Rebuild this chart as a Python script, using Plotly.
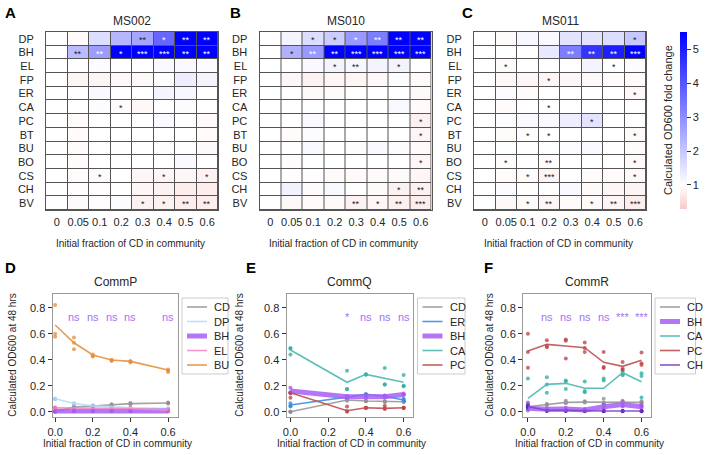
import plotly.graph_objects as go

W, H = 712, 455
FONT = "Arial, Liberation Sans, sans-serif"
TXT = "#262626"

rows = ["DP", "BH", "EL", "FP", "ER", "CA", "PC", "BT", "BU", "BO", "CS", "CH", "BV"]
cols = ["0", "0.05", "0.1", "0.2", "0.3", "0.4", "0.5", "0.6"]

ms002_fc = [
    [1, 0.95, 1.6, 2.3, 2.6, 3.7, 5.5, 5.5],
    [1, 2.2, 2.75, 5.5, 5.5, 5.5, 5.5, 5.5],
    [1, 1, 1.05, 1, 1, 1.1, 1.1, 1.05],
    [1, 0.85, 0.85, 0.9, 0.92, 0.98, 1.3, 1.2],
    [1, 1, 1.1, 1, 1, 1.2, 1.15, 1],
    [1, 1, 1.05, 0.95, 0.9, 1, 1.05, 1],
    [1, 0.95, 1, 1, 1, 1.1, 1, 0.93],
    [1, 0.95, 1, 1, 1, 1, 1, 0.95],
    [1, 0.95, 1, 1, 1, 1.02, 1, 0.93],
    [1, 0.95, 1, 1, 1, 1, 1.1, 1],
    [1, 0.95, 0.95, 1, 0.88, 0.88, 0.88, 0.82],
    [1, 0.97, 0.97, 1, 0.88, 0.82, 0.75, 0.75],
    [1, 0.93, 0.97, 1.05, 0.82, 0.82, 0.75, 0.75],
]
ms002_sig = [
    ["", "", "", "", "**", "*", "**", "**"],
    ["", "**", "**", "*", "***", "***", "**", "**"],
    [""] * 8, [""] * 8, [""] * 8,
    ["", "", "", "*", "", "", "", ""],
    [""] * 8, [""] * 8, [""] * 8, [""] * 8,
    ["", "", "*", "", "", "*", "", "*"],
    [""] * 8,
    ["", "", "", "", "*", "*", "**", "**"],
]

ms010_fc = [
    [1, 1.2, 1.6, 1.9, 2.8, 3.3, 5.5, 5.5],
    [1, 2.4, 2.8, 5.5, 5.5, 5.5, 5.5, 5.5],
    [1, 1, 1.1, 1.2, 1.15, 1.2, 1.2, 1],
    [1, 0.88, 0.82, 0.86, 0.86, 0.9, 1.05, 0.93],
    [1, 1, 0.93, 0.95, 1, 1, 1, 0.93],
    [1, 1, 1, 1, 1, 1, 1.12, 0.95],
    [1, 1, 1.1, 1, 1, 1, 1, 0.8],
    [1, 0.95, 1.05, 1, 1, 1, 1, 0.88],
    [1, 1, 1.12, 1, 1.05, 1.1, 1.05, 0.95],
    [1, 0.95, 1, 1, 1, 1, 1, 0.88],
    [1, 0.97, 0.97, 0.93, 0.93, 0.93, 0.93, 0.88],
    [1, 1.25, 0.95, 1.12, 1, 0.93, 0.82, 0.8],
    [1, 0.92, 0.95, 0.93, 0.82, 0.88, 0.8, 0.75],
]
ms010_sig = [
    ["", "", "*", "*", "*", "**", "**", "**"],
    ["", "*", "**", "**", "***", "***", "***", "***"],
    ["", "", "", "*", "**", "", "*", ""],
    [""] * 8, [""] * 8, [""] * 8,
    ["", "", "", "", "", "", "", "*"],
    ["", "", "", "", "", "", "", "*"],
    [""] * 8,
    ["", "", "", "", "", "", "", "*"],
    [""] * 8,
    ["", "", "", "", "", "", "*", "**"],
    ["", "", "", "", "**", "*", "**", "***"],
]

ms011_fc = [
    [1, 0.95, 1.15, 1.1, 1.5, 1.5, 1.6, 2.0],
    [1, 1, 1, 1.4, 3.3, 4.6, 5.0, 5.5],
    [1, 0.93, 1, 1, 1, 1.2, 1, 1.05],
    [1, 0.9, 0.88, 0.88, 0.88, 0.92, 0.95, 0.95],
    [1, 1.05, 0.95, 1, 1, 1, 1, 0.9],
    [1, 0.95, 1, 1, 1, 1, 1, 1],
    [1, 1.05, 1.1, 1.1, 1.3, 1.5, 1, 1],
    [1, 0.95, 0.97, 1, 1, 1, 1, 0.93],
    [1, 1, 1, 1, 1.05, 1.1, 1, 0.95],
    [1, 0.95, 0.97, 0.95, 1, 1, 1, 0.93],
    [1, 0.95, 0.95, 0.85, 1, 0.95, 0.95, 0.93],
    [1, 1.05, 1, 1, 1.1, 0.93, 0.88, 0.85],
    [1, 0.92, 0.93, 0.88, 0.95, 0.93, 0.88, 0.75],
]
ms011_sig = [
    ["", "", "", "", "", "", "", "*"],
    ["", "", "", "", "**", "**", "**", "***"],
    ["", "*", "", "", "", "", "*", ""],
    ["", "", "", "*", "", "", "", ""],
    ["", "", "", "", "", "", "", "*"],
    ["", "", "", "*", "", "", "", ""],
    ["", "", "", "", "", "*", "", ""],
    ["", "", "*", "*", "", "", "", "*"],
    [""] * 8,
    ["", "*", "", "**", "", "", "", "*"],
    ["", "", "*", "***", "", "", "", "*"],
    [""] * 8,
    ["", "", "*", "**", "", "*", "**", "***"],
]

heat_titles = ["MS002", "MS010", "MS011"]
fc_min, fc_max = 0.29, 5.52

# ---- bottom panels ----
commP_x = [0, 0.1, 0.2, 0.3, 0.4, 0.6]
commP_species = ["CD", "DP", "BH", "EL", "BU"]
commP_mean = {
    "CD": [0.0, 0.035, 0.044, 0.054, 0.062, 0.067],
    "DP": [0.10, 0.063, 0.045, 0.035, 0.03, 0.025],
    "BH": [0.005, 0.005, 0.005, 0.005, 0.005, 0.005],
    "EL": [0.03, 0.03, 0.03, 0.025, 0.025, 0.012],
    "BU": [0.667, 0.53, 0.436, 0.397, 0.387, 0.32],
}
commP_reps = {
    "CD": [[0, 0, 0], [0.03, 0.035, 0.04], [0.04, 0.044, 0.048], [0.05, 0.054, 0.058], [0.058, 0.062, 0.066], [0.064, 0.067, 0.07]],
    "DP": [[0.1, 0.1, 0.095], [0.065, 0.06, 0.06], [0.045, 0.045, 0.04], [0.035, 0.035, 0.03], [0.03, 0.03, 0.03], [0.025, 0.025, 0.025]],
    "BH": [[0.005, 0.004, 0.006]] * 6,
    "EL": [[0.033, 0.03, 0.028], [0.035, 0.03, 0.025], [0.03, 0.028, 0.025], [0.028, 0.02, 0.018], [0.028, 0.02, 0.018], [0.015, 0.01, 0.008]],
    "BU": [[0.82, 0.60, 0.577], [0.57, 0.53, 0.48], [0.44, 0.43, 0.425], [0.40, 0.395, 0.39], [0.39, 0.385, 0.38], [0.325, 0.315, 0.305]],
}
commP_labels = ["ns", "ns", "ns", "ns", "ns"]
commP_label_x = [0.1, 0.2, 0.3, 0.4, 0.6]

commQ_x = [0, 0.3, 0.4, 0.5, 0.6]
commQ_species = ["CD", "ER", "BH", "CA", "PC"]
commQ_mean = {
    "CD": [0.0, 0.09, 0.082, 0.077, 0.077],
    "ER": [0.051, 0.11, 0.133, 0.12, 0.09],
    "BH": [0.159, 0.115, 0.115, 0.115, 0.133],
    "CA": [0.474, 0.226, 0.287, 0.256, 0.226],
    "PC": [0.146, 0.008, 0.031, 0.026, 0.031],
}
commQ_reps = {
    "CD": [[0, 0, 0], [0.09, 0.085, 0.095], [0.08, 0.082, 0.085], [0.075, 0.078, 0.08], [0.075, 0.078, 0.08]],
    "ER": [[0.065, 0.045, 0.04], [0.11, 0.115, 0.105], [0.135, 0.13, 0.135], [0.12, 0.125, 0.115], [0.1, 0.09, 0.08]],
    "BH": [[0.185, 0.15, 0.14], [0.12, 0.115, 0.11], [0.12, 0.115, 0.11], [0.12, 0.115, 0.11], [0.14, 0.13, 0.13]],
    "CA": [[0.49, 0.485, 0.44], [0.315, 0.174, 0.172], [0.287, 0.287, 0.287], [0.336, 0.21, 0.21], [0.282, 0.2, 0.196]],
    "PC": [[0.146, 0.146, 0.108], [0.04, 0.005, 0.0], [0.031, 0.03, 0.028], [0.045, 0.026, 0.02], [0.031, 0.03, 0.028]],
}
commQ_labels = ["*", "ns", "ns", "ns"]
commQ_label_x = [0.3, 0.4, 0.5, 0.6]

commR_x = [0, 0.1, 0.2, 0.3, 0.4, 0.5, 0.6]
commR_species = ["CD", "BH", "CA", "PC", "CH"]
commR_mean = {
    "CD": [0.038, 0.054, 0.072, 0.074, 0.074, 0.077, 0.072],
    "BH": [0.026, 0.018, 0.02, 0.013, 0.038, 0.056, 0.038],
    "CA": [0.103, 0.21, 0.218, 0.18, 0.18, 0.30, 0.23],
    "PC": [0.467, 0.518, 0.505, 0.492, 0.38, 0.349, 0.395],
    "CH": [0.04, 0.01, 0.01, 0.006, 0.006, 0.006, 0.006],
}
commR_reps = {
    "CD": [[0.06, 0.04, 0.02], [0.06, 0.055, 0.05], [0.085, 0.07, 0.065], [0.08, 0.075, 0.07], [0.1, 0.07, 0.06], [0.085, 0.078, 0.07], [0.08, 0.07, 0.065]],
    "BH": [[0.07, 0.03, 0.01], [0.02, 0.02, 0.015], [0.03, 0.02, 0.015], [0.02, 0.013, 0.01], [0.06, 0.04, 0.02], [0.07, 0.06, 0.04], [0.05, 0.04, 0.03]],
    "CA": [[0.256, 0.03, 0.02], [0.264, 0.21, 0.146], [0.24, 0.232, 0.174], [0.233, 0.16, 0.15], [0.256, 0.24, 0.05], [0.31, 0.29, 0.28], [0.295, 0.274, 0.11]],
    "PC": [[0.60, 0.46, 0.338], [0.549, 0.505, 0.495], [0.556, 0.545, 0.41], [0.533, 0.49, 0.46], [0.459, 0.344, 0.336], [0.382, 0.33, 0.322], [0.456, 0.372, 0.36]],
    "CH": [[0.05, 0.04, 0.03], [0.01, 0.008, 0.006], [0.01, 0.008, 0.006], [0.006, 0.005, 0.004], [0.006, 0.005, 0.004], [0.006, 0.005, 0.004], [0.006, 0.005, 0.004]],
}
commR_labels = ["ns", "ns", "ns", "ns", "***", "***"]
commR_label_x = [0.1, 0.2, 0.3, 0.4, 0.5, 0.6]

species_color = {
    "CD": "#9a9a9a", "DP": "#b8dcf8", "BH": "#a95ef5", "EL": "#f58cc6",
    "BU": "#e8913f", "ER": "#3f8fe0", "CA": "#4bbab2", "PC": "#c24f50", "CH": "#7d45cc",
}
species_marker = {
    "CD": "#8a8a8a", "DP": "#9ccdf3", "BH": "#9b4cf0", "EL": "#ef6bb3",
    "BU": "#e58a38", "ER": "#2f83db", "CA": "#2aaba2", "PC": "#b83f42", "CH": "#5a20b0",
}

fig = go.Figure()


def px2x(p):
    return p / W


def px2y(p):
    return 1 - p / H


annotations = []
shapes = []


def txt(x, y, text, size=11, color=TXT, angle=0, xanchor="center", **kw):
    d = dict(x=x, y=y, text=text, showarrow=False, xanchor=xanchor, yanchor="middle",
             textangle=angle, font=dict(size=size, family=FONT, color=color))
    d.setdefault("xref", "paper")
    d.setdefault("yref", "paper")
    d.update(kw)
    annotations.append(d)


# ---------- heatmaps ----------
heat_x_px = [(46, 218), (259.5, 431.5), (474, 646)]
heat_y_px = (32, 210)
heat_data = [(ms002_fc, ms002_sig), (ms010_fc, ms010_sig), (ms011_fc, ms011_sig)]
letters_top = [("A", 10, 12), ("B", 236, 12), ("C", 467, 12)]

for i, ((fc, sig), (x0, x1)) in enumerate(zip(heat_data, heat_x_px)):
    n = "" if i == 0 else str(i + 1)
    xa, ya = "x" + n, "y" + n
    fig.add_trace(go.Heatmap(
        z=fc, x=list(range(len(cols))), y=list(range(len(rows))),
        coloraxis="coloraxis", xgap=1, ygap=1, xaxis=xa, yaxis=ya,
        hoverinfo="skip",
    ))
    fig.layout["xaxis" + n] = dict(
        domain=[px2x(x0), px2x(x1)], range=[-0.5, 7.5], anchor=ya,
        tickvals=list(range(len(cols))), ticktext=cols, ticks="",
        showgrid=False, zeroline=False, showline=True, mirror=True,
        linecolor="#555", linewidth=1, tickfont=dict(size=11, color=TXT, family=FONT),
        ticklabelstandoff=2, automargin=False,
    )
    fig.layout["yaxis" + n] = dict(
        domain=[px2y(heat_y_px[1]), px2y(heat_y_px[0])], range=[12.5, -0.5], anchor=xa,
        tickvals=list(range(len(rows))), ticktext=rows, ticks="",
        showgrid=False, zeroline=False, showline=True, mirror=True,
        linecolor="#555", linewidth=1, tickfont=dict(size=11, color=TXT, family=FONT),
        ticklabelstandoff=9, automargin=False,
    )
    shapes.append(dict(type="rect", xref=xa, yref=ya, x0=-0.5, x1=7.5, y0=-0.5, y1=12.5,
                       fillcolor="#555", line=dict(width=0), layer="below"))
    for r in range(len(rows)):
        for c in range(len(cols)):
            s = sig[r][c]
            if s:
                txt(c, r, s, size=9, color="white" if fc[r][c] > 2.7 else "#222",
                    xref=xa, yref=ya, yshift=-1)
    txt(px2x((x0 + x1) / 2), px2y(21), heat_titles[i], size=12)
    txt(px2x((x0 + x1) / 2 - 2), px2y(243), "Initial fraction of CD in community", size=10)
    L, lx, ly = letters_top[i]
    txt(px2x(lx), px2y(ly), "<b>%s</b>" % L, size=15, color="black")

fig.update_layout(coloraxis=dict(
    cmin=fc_min, cmax=fc_max,
    colorscale=[[0, "rgb(248,203,203)"], [(1 - fc_min) / (fc_max - fc_min), "rgb(255,255,255)"], [1, "rgb(0,0,255)"]],
    colorbar=dict(
        x=px2x(680), xanchor="left", xpad=0, ypad=0, thickness=7,
        lenmode="fraction", len=(209 - 32) / H, y=px2y(32), yanchor="top",
        outlinewidth=0, ticks="outside", ticklen=4, tickcolor="#333",
        tickvals=[1, 2, 3, 4, 5], tickfont=dict(size=11, color=TXT, family=FONT),
    ),
))
txt(px2x(668), px2y(120), "Calculated OD600 fold change", size=11, angle=-90)

# ---------- bottom line panels ----------
panels = [
    ("CommP", commP_x, commP_species, commP_mean, commP_reps, commP_labels, commP_label_x,
     (52.5, 177.5), [-0.014, 0.65], ("D", 10, 267), 13, (182, 228, 298, 374)),
    ("CommQ", commQ_x, commQ_species, commQ_mean, commQ_reps, commQ_labels, commQ_label_x,
     (286.5, 412.7), [-0.021, 0.648], ("E", 251, 267), 240, (417.5, 465, 298, 374)),
    ("CommR", commR_x, commR_species, commR_mean, commR_reps, commR_labels, commR_label_x,
     (523, 651), [-0.026, 0.65], ("F", 488, 267), 490, (655, 695.5, 298, 374)),
]
bot_y_px = (294, 417.3)
yrange = [-0.043, 0.905]

for j, (title, xs, spp, means, reps, labs, labx, (x0, x1), xr, (L, lx, ly), ytx, (lg0, lg1, lgt, lgb)) in enumerate(panels):
    n = str(j + 4)
    xa, ya = "x" + n, "y" + n
    for sp in spp:
        px_, py_ = [], []
        for xv, rv in zip(xs, reps[sp]):
            for v in rv:
                px_.append(xv)
                py_.append(v)
        fig.add_trace(go.Scatter(
            x=px_, y=py_, mode="markers", xaxis=xa, yaxis=ya, showlegend=False,
            marker=dict(size=4, color=species_marker[sp], opacity=0.75), hoverinfo="skip",
        ))
    for sp in spp:
        wide = sp == "BH"
        fig.add_trace(go.Scatter(
            x=xs, y=means[sp], mode="lines", xaxis=xa, yaxis=ya, name=sp, showlegend=False,
            line=dict(color=species_color[sp], width=5 if wide else 1.6),
            opacity=0.85 if wide else 0.9, hoverinfo="skip",
        ))
    fig.layout["xaxis" + n] = dict(
        domain=[px2x(x0), px2x(x1)], range=xr, anchor=ya,
        tickvals=[0, 0.2, 0.4, 0.6], tickformat=".1f", ticks="outside", ticklen=4,
        tickcolor="#333", showgrid=False, zeroline=False, showline=True, mirror=True,
        linecolor="#999", linewidth=1, tickfont=dict(size=11, color=TXT, family=FONT),
        automargin=False,
    )
    fig.layout["yaxis" + n] = dict(
        domain=[px2y(bot_y_px[1]), px2y(bot_y_px[0])], range=yrange, anchor=xa,
        tickvals=[0, 0.2, 0.4, 0.6, 0.8], tickformat=".1f", ticks="outside", ticklen=4,
        tickcolor="#333", showgrid=False, zeroline=False, showline=True, mirror=True,
        linecolor="#999", linewidth=1, tickfont=dict(size=11, color=TXT, family=FONT),
        automargin=False,
    )
    for t, xv in zip(labs, labx):
        txt(xv, 0.73, t, size=11, color="#a970f5", xref=xa, yref=ya)
    txt(px2x((x0 + x1) / 2), px2y(282), title, size=12)
    txt(px2x((x0 + x1) / 2 + 2), px2y(443), "Initial fraction of CD in community", size=10)
    txt(px2x(ytx), px2y((bot_y_px[0] + bot_y_px[1]) / 2), "Calculated OD600 at 48 hrs", size=10, angle=-90)
    txt(px2x(lx), px2y(ly), "<b>%s</b>" % L, size=15, color="black")
    # legend box (drawn in layout)
    shapes.append(dict(type="rect", xref="paper", yref="paper",
                       x0=px2x(lg0), x1=px2x(lg1), y0=px2y(lgb), y1=px2y(lgt),
                       fillcolor="white", line=dict(color="#cccccc", width=1), layer="above"))
    step = (lgb - lgt - 18) / (len(spp) - 1)
    for k, sp in enumerate(spp):
        yy = lgt + 9 + k * step
        wide = sp == "BH"
        shapes.append(dict(type="line", xref="paper", yref="paper",
                           x0=px2x(lg0 + 5), x1=px2x(lg0 + 25), y0=px2y(yy), y1=px2y(yy),
                           line=dict(color=species_color[sp], width=5 if wide else 1.6),
                           opacity=0.85 if wide else 0.9, layer="above"))
        txt(px2x(lg0 + 30), px2y(yy), sp, size=11, xanchor="left")

fig.update_layout(
    width=W, height=H, margin=dict(l=0, r=0, t=0, b=0, autoexpand=False),
    paper_bgcolor="white", plot_bgcolor="white",
    font=dict(family=FONT, color=TXT),
    annotations=annotations, shapes=shapes, showlegend=False,
)

fig.write_html("out.html", config={"displayModeBar": False},
               post_script="document.body.style.margin='0px';")
